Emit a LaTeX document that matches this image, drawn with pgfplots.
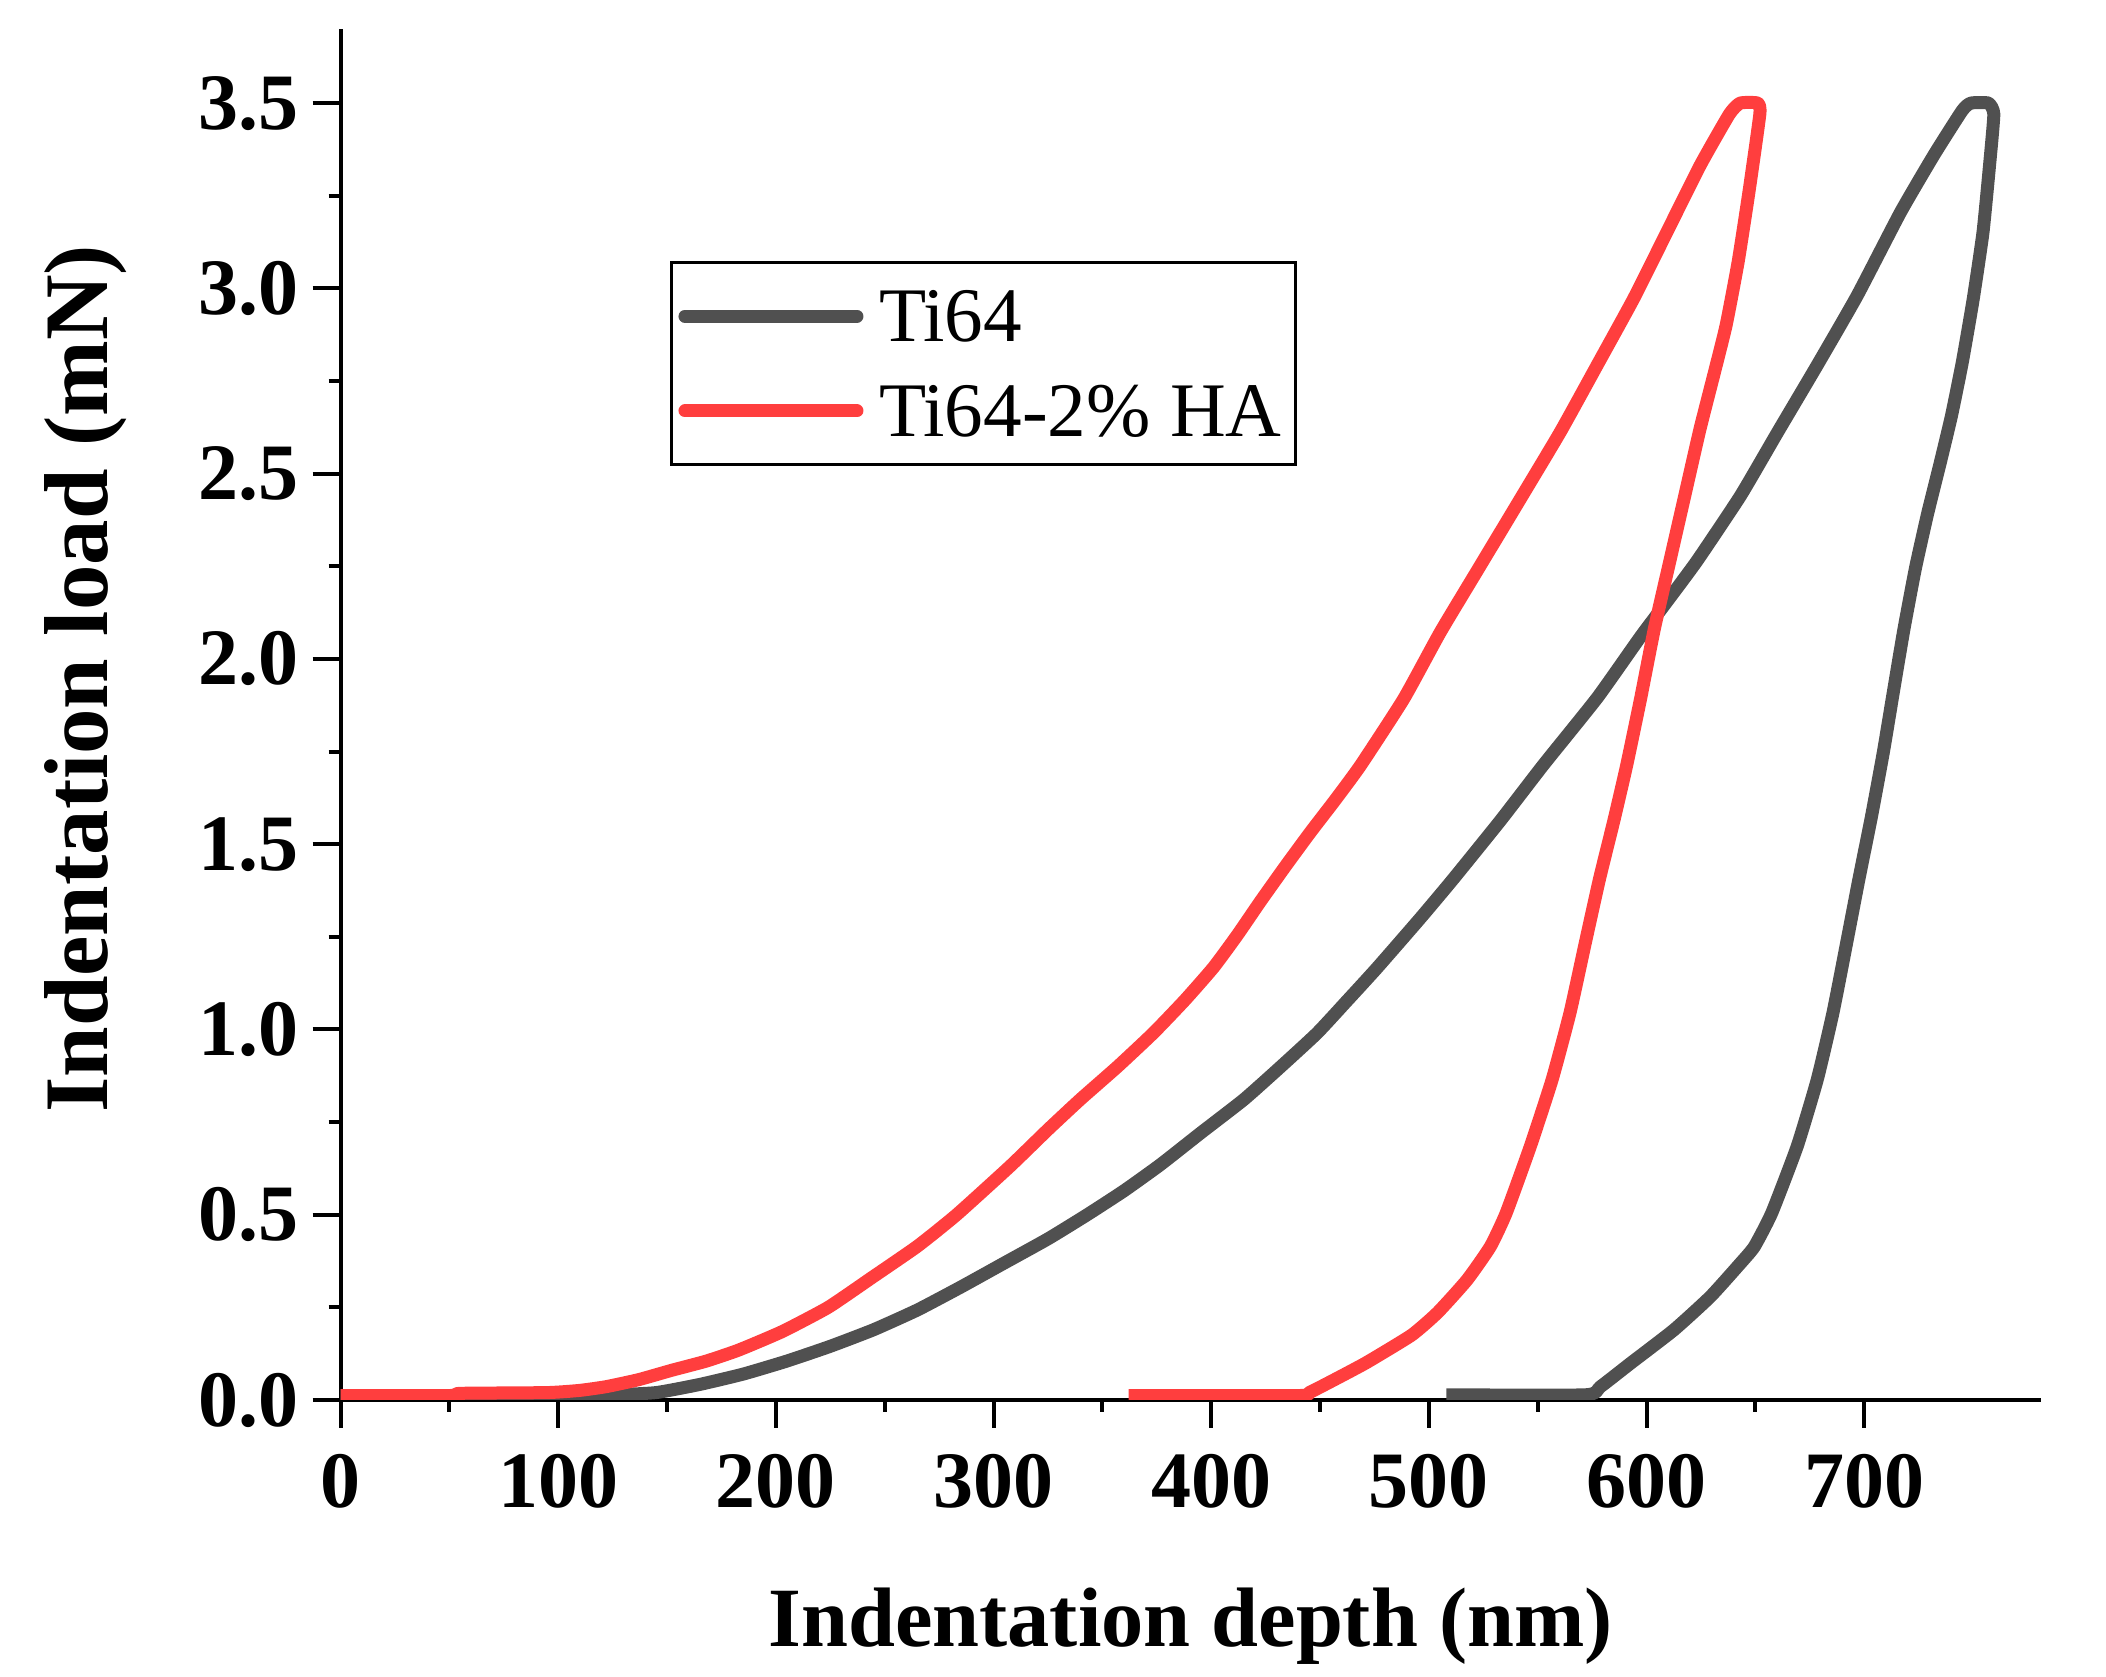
\documentclass[border=0pt]{standalone}
\usepackage{fontspec}
\setmainfont{Liberation Serif}
\usepackage{pgfplots}
\pgfplotsset{compat=1.18}
\definecolor{tigray}{RGB}{80,80,80}
\definecolor{tired}{RGB}{255,62,62}

\begin{document}
\begin{tikzpicture}
\path[use as bounding box] (-85.15pt,-69.25pt) rectangle (441.35pt,350pt);
\begin{axis}[
  scale only axis,
  width=425pt, height=342.75pt,
  xmin=0, xmax=781, ymin=0, ymax=3.7,
  axis x line*=bottom, axis y line*=left,
  axis line style={-, line width=1pt, black},
  xtick={0,100,...,700}, ytick={0,0.5,...,3.5},
  minor x tick num=1, minor y tick num=1,
  tick align=outside,
  major tick length=7pt, minor tick length=3pt,
  tick style={line width=1pt, black},
  /pgf/number format/assume math mode=true,
  yticklabel style={/pgf/number format/.cd, fixed, fixed zerofill, precision=1},
  xticklabel style={yshift=-3pt},
  ticklabel style={font=\fontsize{20}{22}\selectfont\bfseries},
  xlabel={Indentation depth (nm)},
  ylabel={Indentation load (mN)},
  xlabel style={font=\fontsize{21.1}{23}\selectfont\bfseries,
    at={(axis description cs:0.5,-0.165)}, anchor=center},
  ylabel style={font=\fontsize{22.7}{24}\selectfont\bfseries,
    at={(axis description cs:-0.150,0.526)}, anchor=center},
  legend style={at={(axis description cs:0.1938,0.8308)}, anchor=north west,
    draw=black, line width=0.8pt, fill=white,
    font=\fontsize{19.3}{21}\selectfont,
    inner xsep=3.4pt, inner ysep=3.2pt, row sep=3.3pt, column sep=3.9pt,
    nodes={inner sep=0pt, text height=16.6pt, text depth=3.8pt}},
  legend cell align=left,
  legend image code/.code={%
    \path (0pt,0pt) -- (41.3pt,0pt);
    \draw[#1, overlay, line cap=round] (-1.7pt,0pt) -- (41.3pt,0pt);},
]
\addplot[tigray, line width=3.25pt, line join=round, smooth, tension=0.3] coordinates {
(0,0.012) (100,0.012) (125,0.014) (145,0.02) (165,0.042) (185,0.07) (205,0.105)
(225,0.145) (245,0.19) (265,0.243) (285,0.305) (305,0.37) (325,0.435) (343,0.5)
(360,0.565) (376.6,0.635) (395,0.72) (415,0.811) (432,0.9) (448.6,0.99)
(462,1.075) (476,1.165) (496,1.3) (511,1.405) (533,1.565) (552.7,1.715)
(577.3,1.895) (597.2,2.06) (610,2.16) (623.2,2.265) (643.1,2.44) (660,2.61)
(678.4,2.793) (696.7,2.98) (716.6,3.205) (732,3.36) (745,3.48)
(749,3.5) (757,3.5) (759.5,3.47) (757.5,3.33) (754.5,3.15) (750,2.97) (745,2.80)
(740,2.655) (734.5,2.52) (729,2.39) (723.5,2.245) (718.2,2.08) (713.6,1.92)
(708.8,1.75) (703.3,1.575) (697.5,1.405) (691.6,1.225) (685.6,1.045)
(678.4,0.865) (669.2,0.685) (657.5,0.505) (649.5,0.414) (643.1,0.369)
(629.3,0.279) (612.5,0.189) (592.6,0.099) (578.8,0.036) (572,0.014) (508,0.014)
};
\addlegendentry{Ti64}
\addplot[tired, line width=3.25pt, line join=round, smooth, tension=0.3] coordinates {
(0,0.012) (50,0.012) (55,0.018) (95,0.02) (110,0.026) (122,0.036) (137,0.055)
(152,0.08) (168,0.105) (183,0.135) (203,0.185) (224,0.25) (244,0.33) (265,0.415)
(283,0.5) (307.6,0.631) (325,0.73) (339.8,0.811) (357,0.9) (373.5,0.991)
(388,1.08) (401.1,1.168) (412,1.255) (422.5,1.345) (434,1.44) (445.5,1.532)
(457,1.62) (468.5,1.712) (488.4,1.892) (505.2,2.072) (523.6,2.252) (542,2.432)
(560.4,2.613) (577.3,2.793) (594.1,2.973) (609.4,3.153) (624.7,3.333)
(638,3.47) (643,3.5) (651,3.5) (652,3.47) (647,3.26) (642,3.07) (636.5,2.90)
(631,2.77) (624.5,2.62) (617.5,2.44) (610.5,2.26) (603.5,2.08) (597.2,1.892)
(590.8,1.712) (585,1.565) (578.3,1.405) (571.5,1.225) (564.8,1.045)
(556.6,0.865) (546.6,0.685) (535.5,0.505) (528.2,0.414) (517.5,0.324)
(504,0.236) (492,0.175) (471,0.1) (455,0.05) (445,0.02) (440,0.012) (362,0.012)
};
\addlegendentry{Ti64-2\% HA}
\end{axis}
\end{tikzpicture}
\end{document}
